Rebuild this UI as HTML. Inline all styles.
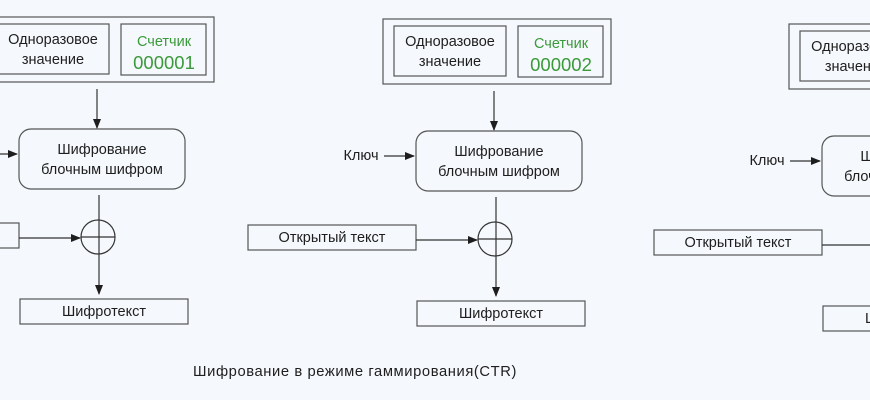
<!DOCTYPE html>
<html><head><meta charset="utf-8"><style>
html,body{margin:0;padding:0;background:#f5f8fc;}
svg{display:block;}
text{font-family:"Liberation Sans","Noto Sans CJK SC",sans-serif;fill:#1e1e1e;}
</style></head><body>
<svg width="870" height="400" viewBox="0 0 870 400" xmlns="http://www.w3.org/2000/svg">
<defs>
<marker id="ah" markerWidth="10" markerHeight="10" refX="9" refY="5" orient="auto" markerUnits="userSpaceOnUse">
<path d="M0,1 L10,5 L0,9 Z" fill="#1e1e1e"/></marker>
<g id="panel" fill="none" stroke="#555" stroke-width="1.2">
<rect x="383" y="19" width="228" height="65"/>
<rect x="394" y="26" width="112" height="50"/>
<rect x="518" y="26" width="85" height="51"/>
<line x1="494" y1="91" x2="494" y2="130" stroke="#333" marker-end="url(#ah)"/>
<rect x="416" y="131" width="166" height="60" rx="12"/>
<line x1="384" y1="156" x2="414" y2="156" stroke="#333" marker-end="url(#ah)"/>
<rect x="248" y="225" width="168" height="25"/>
<line x1="416" y1="240" x2="477" y2="240" stroke="#333" marker-end="url(#ah)"/>
<circle cx="495" cy="239" r="17" stroke="#333"/>
<line x1="478" y1="239" x2="512" y2="239" stroke="#333"/>
<line x1="496" y1="197" x2="496" y2="296" stroke="#333" marker-end="url(#ah)"/>
<rect x="417" y="301" width="168" height="25"/>
<g stroke="none" font-size="14.5">
<text x="450" y="46" text-anchor="middle">Одноразовое</text>
<text x="450" y="66" text-anchor="middle">значение</text>
<text x="561" y="48" text-anchor="middle" style="fill:#3a9a3a">Счетчик</text>
<text x="499" y="156" text-anchor="middle">Шифрование</text>
<text x="499" y="176" text-anchor="middle">блочным шифром</text>
<text x="361" y="160" text-anchor="middle">Ключ</text>
<text x="332" y="242" text-anchor="middle">Открытый текст</text>
<text x="501" y="318" text-anchor="middle">Шифротекст</text>
</g>
</g>
</defs>
<g transform="translate(-397,-2)"><use href="#panel"/>
<text x="561" y="71" text-anchor="middle" font-size="18.5" style="fill:#3a9a3a">000001</text></g>
<use href="#panel"/>
<text x="561" y="71" text-anchor="middle" font-size="18.5" style="fill:#3a9a3a">000002</text>
<g transform="translate(406,5)"><use href="#panel"/>
<text x="561" y="71" text-anchor="middle" font-size="18.5" style="fill:#3a9a3a">000003</text></g>
<text x="193" y="376" font-size="15" letter-spacing="0.6" textLength="324" lengthAdjust="spacingAndGlyphs">Шифрование в режиме гаммирования(CTR)</text>
</svg>
</body></html>
